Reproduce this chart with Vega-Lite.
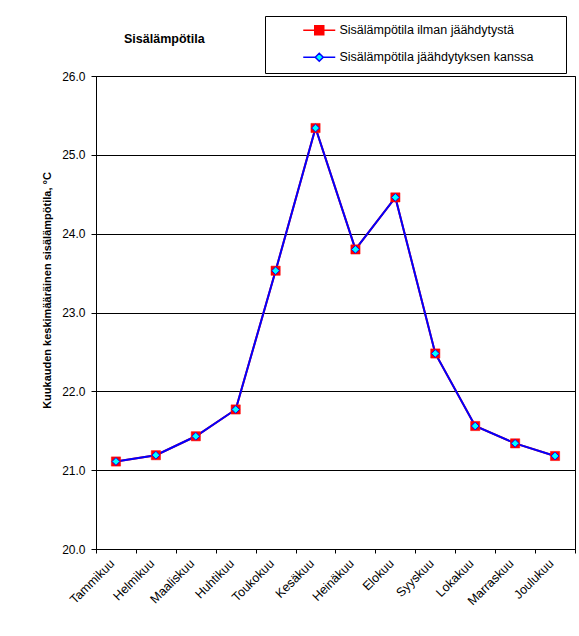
{
  "$schema": "https://vega.github.io/schema/vega-lite/v6.json",
  "width": 479,
  "height": 473,
  "autosize": {"type": "none"},
  "padding": {"left": 96, "top": 76, "right": 4, "bottom": 87},
  "background": "#ffffff",
  "config": {
    "font": "Liberation Sans",
    "view": {"stroke": "#000000", "strokeWidth": 1},
    "axis": {
      "domainColor": "#000000",
      "tickColor": "#000000",
      "labelColor": "#000000",
      "titleColor": "#000000",
      "labelFont": "Liberation Sans",
      "titleFont": "Liberation Sans",
      "labelFontSize": 12
    }
  },
  "title": {
    "text": "Sisälämpötila",
    "anchor": "start",
    "frame": "group",
    "baseline": "middle",
    "dx": 28,
    "dy": 36,
    "offset": 0,
    "fontSize": 12.5,
    "fontWeight": "bold",
    "font": "Liberation Sans",
    "color": "#000000"
  },
  "data": {
    "values": [
      {"kuukausi": "Tammikuu", "sarja": "Sisälämpötila ilman jäähdytystä", "lampotila": 21.11},
      {"kuukausi": "Helmikuu", "sarja": "Sisälämpötila ilman jäähdytystä", "lampotila": 21.19},
      {"kuukausi": "Maaliskuu", "sarja": "Sisälämpötila ilman jäähdytystä", "lampotila": 21.43},
      {"kuukausi": "Huhtikuu", "sarja": "Sisälämpötila ilman jäähdytystä", "lampotila": 21.77},
      {"kuukausi": "Toukokuu", "sarja": "Sisälämpötila ilman jäähdytystä", "lampotila": 23.53},
      {"kuukausi": "Kesäkuu", "sarja": "Sisälämpötila ilman jäähdytystä", "lampotila": 25.34},
      {"kuukausi": "Heinäkuu", "sarja": "Sisälämpötila ilman jäähdytystä", "lampotila": 23.8},
      {"kuukausi": "Elokuu", "sarja": "Sisälämpötila ilman jäähdytystä", "lampotila": 24.46},
      {"kuukausi": "Syyskuu", "sarja": "Sisälämpötila ilman jäähdytystä", "lampotila": 22.48},
      {"kuukausi": "Lokakuu", "sarja": "Sisälämpötila ilman jäähdytystä", "lampotila": 21.56},
      {"kuukausi": "Marraskuu", "sarja": "Sisälämpötila ilman jäähdytystä", "lampotila": 21.34},
      {"kuukausi": "Joulukuu", "sarja": "Sisälämpötila ilman jäähdytystä", "lampotila": 21.18},
      {"kuukausi": "Tammikuu", "sarja": "Sisälämpötila jäähdytyksen kanssa", "lampotila": 21.11},
      {"kuukausi": "Helmikuu", "sarja": "Sisälämpötila jäähdytyksen kanssa", "lampotila": 21.19},
      {"kuukausi": "Maaliskuu", "sarja": "Sisälämpötila jäähdytyksen kanssa", "lampotila": 21.43},
      {"kuukausi": "Huhtikuu", "sarja": "Sisälämpötila jäähdytyksen kanssa", "lampotila": 21.77},
      {"kuukausi": "Toukokuu", "sarja": "Sisälämpötila jäähdytyksen kanssa", "lampotila": 23.53},
      {"kuukausi": "Kesäkuu", "sarja": "Sisälämpötila jäähdytyksen kanssa", "lampotila": 25.34},
      {"kuukausi": "Heinäkuu", "sarja": "Sisälämpötila jäähdytyksen kanssa", "lampotila": 23.8},
      {"kuukausi": "Elokuu", "sarja": "Sisälämpötila jäähdytyksen kanssa", "lampotila": 24.46},
      {"kuukausi": "Syyskuu", "sarja": "Sisälämpötila jäähdytyksen kanssa", "lampotila": 22.48},
      {"kuukausi": "Lokakuu", "sarja": "Sisälämpötila jäähdytyksen kanssa", "lampotila": 21.56},
      {"kuukausi": "Marraskuu", "sarja": "Sisälämpötila jäähdytyksen kanssa", "lampotila": 21.34},
      {"kuukausi": "Joulukuu", "sarja": "Sisälämpötila jäähdytyksen kanssa", "lampotila": 21.18}
    ]
  },
  "encoding": {
    "x": {
      "field": "kuukausi",
      "type": "nominal",
      "sort": null,
      "scale": {"type": "band", "paddingInner": 0, "paddingOuter": 0},
      "axis": {
        "title": null,
        "labelAngle": -45,
        "labelAlign": "right",
        "labelBaseline": "middle",
        "labelFontSize": 12.5,
        "labelPadding": 8,
        "labelOffset": -4,
        "tickSize": 4,
        "tickBand": "extent",
        "grid": false
      }
    },
    "y": {
      "field": "lampotila",
      "type": "quantitative",
      "scale": {"domain": [20, 26], "nice": false, "zero": false},
      "axis": {
        "title": "Kuukauden keskimääräinen sisälämpötila, °C",
        "titleFontSize": 11,
        "titleFontWeight": "bold",
        "titleX": -49,
        "titleY": 214,
        "titleBaseline": "middle",
        "titleAlign": "center",
        "values": [20, 21, 22, 23, 24, 25, 26],
        "format": ".1f",
        "tickSize": 5,
        "labelPadding": 6,
        "grid": true,
        "gridColor": "#000000",
        "gridOpacity": 1
      }
    }
  },
  "layer": [
    {
      "mark": {"type": "line", "strokeWidth": 2},
      "encoding": {
        "stroke": {
          "field": "sarja",
          "type": "nominal",
          "scale": {
            "domain": ["Sisälämpötila ilman jäähdytystä", "Sisälämpötila jäähdytyksen kanssa"],
            "range": ["#ff0000", "#0000ff"]
          },
          "legend": {
            "title": " ",
            "titleOrient": "right",
            "titlePadding": 25,
            "orient": "none",
            "legendX": 169,
            "legendY": -60,
            "direction": "vertical",
            "strokeColor": "#000000",
            "fillColor": "#ffffff",
            "padding": 8,
            "rowPadding": 12,
            "symbolSize": 100,
            "symbolStrokeWidth": 1.5,
            "symbolOffset": 40,
            "labelOffset": 14,
            "labelFontSize": 12.5,
            "labelFont": "Liberation Sans",
            "labelColor": "#000000",
            "labelLimit": 300,
            "symbolType": {"expr": "datum.value === 'Sisälämpötila ilman jäähdytystä' ? 'M-3.2,0H3.2M-0.9,-0.9H0.9V0.9H-0.9Z' : 'M-3.2,0H-0.8M0.8,0H3.2M-0.8,0L0,-0.8L0.8,0L0,0.8Z'"},
            "symbolFillColor": {"expr": "datum.value === 'Sisälämpötila ilman jäähdytystä' ? '#ff0000' : '#00ffff'"}
          }
        }
      }
    },
    {
      "transform": [{"filter": {"field": "sarja", "equal": "Sisälämpötila ilman jäähdytystä"}}],
      "mark": {"type": "point", "shape": "square", "filled": true, "fill": "#ff0000", "stroke": "#ff0000", "strokeWidth": 0.5, "size": 85, "opacity": 1}
    },
    {
      "transform": [{"filter": {"field": "sarja", "equal": "Sisälämpötila jäähdytyksen kanssa"}}],
      "mark": {"type": "point", "shape": "diamond", "filled": true, "fill": "#00ffff", "stroke": "#0000ff", "strokeWidth": 1, "size": 60, "opacity": 1}
    }
  ]
}
